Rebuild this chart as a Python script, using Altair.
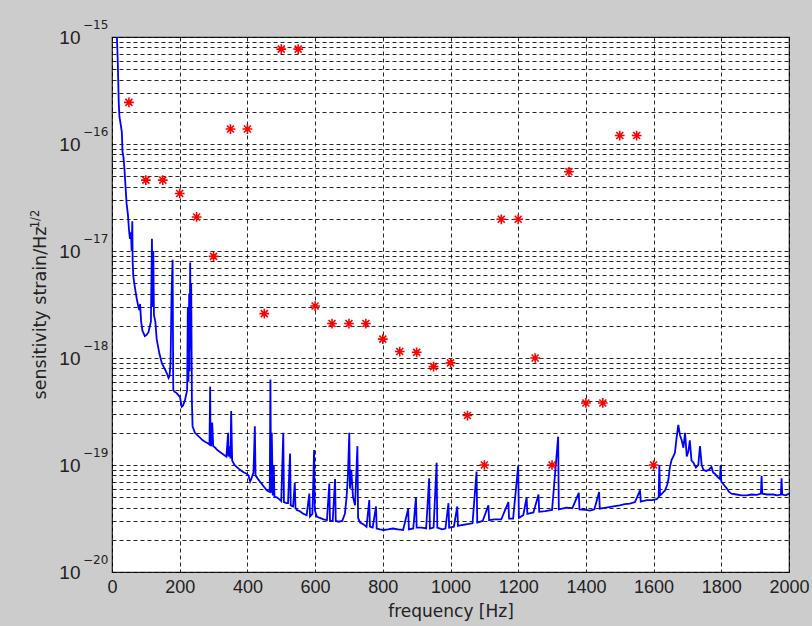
import altair as alt
import pandas as pd

# ---- blue sensitivity curve (frequency in Hz, strain/Hz^1/2) ----
curve_freq = [
    14, 17, 20, 22, 26, 29, 31, 34, 37, 40, 43, 47, 50, 53, 56, 58, 60, 61, 63, 68,
    73, 78, 81, 83, 86, 90, 97, 103, 108, 115, 118, 120, 122, 124, 128, 132, 140, 147, 155, 162,
    167, 170, 173, 176, 179, 181, 186, 191, 196, 201, 206, 210, 216, 222, 224, 226, 228, 229, 231, 232,
    234, 236, 238, 245, 252, 260, 268, 275, 283, 288, 290, 291, 293, 296, 299, 305, 309, 315, 322, 330,
    338, 343, 344, 348, 350, 352, 355, 362, 368, 375, 383, 390, 398, 403, 408, 412, 418, 422, 424, 430,
    440, 450, 457, 466, 468, 470, 472, 475, 478, 480, 486, 494, 500, 506, 508, 515, 520, 526, 528, 535,
    540, 542, 546, 555, 565, 575, 583, 585, 592, 594, 597, 599, 605, 614, 625, 635, 642, 644, 652, 659,
    661, 670, 680, 688, 693, 697, 701, 703, 707, 712, 718, 725, 727, 733, 742, 752, 760, 762, 770, 780,
    782, 792, 802, 815, 830, 845, 860, 875, 877, 890, 898, 900, 915, 928, 937, 939, 950, 959, 961, 975,
    985, 994, 996, 1010, 1020, 1022, 1035, 1050, 1065, 1077, 1079, 1095, 1112, 1114, 1130, 1150, 1171, 1173, 1185, 1200,
    1202, 1215, 1225, 1227, 1245, 1260, 1262, 1280, 1300, 1318, 1320, 1343, 1360, 1379, 1381, 1400, 1412, 1425, 1439, 1441,
    1460, 1481, 1500, 1515, 1530, 1545, 1560, 1562, 1580, 1595, 1609, 1615, 1617, 1619, 1627, 1634, 1640, 1644, 1648, 1653,
    1658, 1663, 1668, 1673, 1678, 1683, 1688, 1693, 1698, 1703, 1707, 1712, 1718, 1725, 1732, 1737, 1742, 1747, 1755, 1763,
    1771, 1776, 1781, 1788, 1796, 1798, 1800, 1808, 1816, 1823, 1830, 1845, 1860, 1875, 1890, 1905, 1917, 1919, 1921, 1935,
    1954, 1965, 1976, 1978, 1980, 1990, 2000,
]
curve_strain = [
    1.1e-15, 6e-16, 2.4e-16, 1.8e-16, 1.5e-16, 1.3e-16, 8.5e-17, 7.5e-17, 5.7e-17, 4.0e-17,
    2.8e-17, 2.2e-17, 1.6e-17, 1.3e-17, 1.5e-17, 1.0e-17, 1.9e-17, 8e-18, 5.8e-18, 4.5e-18,
    3.6e-18, 3.0e-18, 2.8e-18, 3.2e-18, 2.2e-18, 1.8e-18, 1.6e-18, 1.65e-18, 1.75e-18, 2.2e-18,
    1.3e-17, 3e-18, 1.0e-17, 2.5e-18, 2.2e-18, 1.5e-18, 1.1e-18, 9e-19, 8e-19, 7.2e-19,
    6.5e-19, 6.8e-19, 9e-19, 4e-18, 8.3e-18, 5e-19, 4.8e-19, 4.7e-19, 4.5e-19, 4.3e-19,
    3.5e-19, 3.6e-19, 4.1e-19, 5e-19, 3e-18, 6e-19, 4e-18, 7.5e-19, 7.8e-18, 1.2e-18,
    5e-18, 4e-19, 2.3e-19, 2.0e-19, 1.9e-19, 1.8e-19, 1.7e-19, 1.65e-19, 1.6e-19, 1.55e-19,
    5.4e-19, 1.6e-19, 1.5e-19, 2.5e-19, 1.5e-19, 1.45e-19, 1.4e-19, 1.35e-19, 1.3e-19, 1.25e-19,
    1.2e-19, 2.0e-19, 1.2e-19, 1.5e-19, 1.15e-19, 3.2e-19, 1.1e-19, 1.0e-19, 9.6e-20, 9.2e-20,
    8.8e-20, 8.5e-20, 8.3e-20, 8.0e-20, 7.0e-20, 7.5e-20, 8.5e-20, 2.3e-19, 8e-20, 7.5e-20,
    6.8e-20, 6.2e-20, 5.8e-20, 5.6e-20, 6.3e-19, 5.5e-20, 2.0e-19, 5.2e-20, 1.0e-19, 5.0e-20,
    5.0e-20, 4.8e-20, 4.6e-20, 2.0e-19, 4.5e-20, 4.4e-20, 4.4e-20, 1.28e-19, 4.2e-20, 4.1e-20,
    6.8e-20, 4.0e-20, 3.8e-20, 3.7e-20, 3.5e-20, 3.4e-20, 5.4e-20, 3.3e-20, 3.5e-20, 6e-20,
    1.38e-19, 3.8e-20, 3.3e-20, 3.2e-20, 3.1e-20, 3.05e-20, 6.7e-20, 3.0e-20, 3.0e-20, 7.4e-20,
    3.0e-20, 2.95e-20, 3.0e-20, 3.5e-20, 5e-20, 8e-20, 2.0e-19, 6e-20, 9e-20, 5e-20,
    4.2e-20, 1.5e-19, 3.2e-20, 2.9e-20, 2.8e-20, 2.65e-20, 4.7e-20, 2.65e-20, 2.6e-20, 4.1e-20,
    2.55e-20, 2.5e-20, 2.47e-20, 2.5e-20, 2.55e-20, 2.5e-20, 2.47e-20, 3.9e-20, 2.5e-20, 2.55e-20,
    5.0e-20, 2.6e-20, 2.6e-20, 2.55e-20, 7.5e-20, 2.55e-20, 2.6e-20, 1.05e-19, 2.6e-20, 2.5e-20,
    2.55e-20, 4.4e-20, 2.6e-20, 2.65e-20, 4.1e-20, 2.7e-20, 2.75e-20, 2.8e-20, 2.85e-20, 8.7e-20,
    2.9e-20, 3.0e-20, 4.2e-20, 3.05e-20, 3.1e-20, 3.1e-20, 4.5e-20, 3.15e-20, 3.15e-20, 9.9e-20,
    3.2e-20, 3.4e-20, 5.0e-20, 3.5e-20, 3.6e-20, 5.3e-20, 3.65e-20, 3.7e-20, 3.8e-20, 1.84e-19,
    3.85e-20, 4.0e-20, 3.95e-20, 5.5e-20, 3.85e-20, 3.8e-20, 3.75e-20, 3.85e-20, 5.6e-20, 3.9e-20,
    4.0e-20, 4.1e-20, 4.2e-20, 4.3e-20, 4.35e-20, 4.5e-20, 5.8e-20, 4.55e-20, 4.7e-20, 4.7e-20,
    4.8e-20, 5.0e-20, 1.0e-19, 5.2e-20, 5.5e-20, 5.8e-20, 6.5e-20, 7.4e-20, 9.5e-20, 1.11e-19,
    1.2e-19, 1.3e-19, 1.8e-19, 2.37e-19, 1.9e-19, 1.7e-19, 1.45e-19, 2.0e-19, 1.2e-19, 1.35e-19,
    1.7e-19, 1.1e-19, 1.05e-19, 9.5e-20, 1.0e-19, 1.5e-19, 1.0e-19, 9.0e-20, 8.8e-20, 9.0e-20,
    9.6e-20, 8.5e-20, 8.3e-20, 7.8e-20, 7.4e-20, 1.0e-19, 7.0e-20, 6.5e-20, 6.05e-20, 5.6e-20,
    5.4e-20, 5.3e-20, 5.2e-20, 5.2e-20, 5.3e-20, 5.25e-20, 5.4e-20, 7.9e-20, 5.4e-20, 5.3e-20,
    5.3e-20, 5.2e-20, 5.3e-20, 7.5e-20, 5.3e-20, 5.2e-20, 5.4e-20,
]

# ---- red asterisks ----
point_freq = [50, 100, 150, 200, 250, 300, 350, 400, 450, 500, 550, 600, 650, 700, 750, 800,
              850, 900, 950, 1000, 1050, 1100, 1150, 1200, 1250, 1300, 1350, 1400, 1450, 1500, 1550, 1600]
point_strain = [2.45e-16, 4.6e-17, 4.6e-17, 3.45e-17, 2.08e-17, 8.9e-18, 1.38e-16, 1.38e-16,
                2.6e-18, 7.7e-16, 7.7e-16, 3.06e-18, 2.1e-18, 2.1e-18, 2.1e-18, 1.5e-18,
                1.15e-18, 1.13e-18, 8.3e-19, 9.0e-19, 2.9e-19, 1.0e-19, 1.98e-17, 1.98e-17,
                1.0e-18, 1.0e-19, 5.5e-17, 3.8e-19, 3.8e-19, 1.2e-16, 1.2e-16, 1.0e-19]

# ---- axes ----
x_ticks = [0, 200, 400, 600, 800, 1000, 1200, 1400, 1600, 1800, 2000]
decade_exponents = [-20, -19, -18, -17, -16, -15]
minor_multipliers = [1, 2, 3, 4, 5, 6, 7, 8, 9]

y_grid_values = [m * 10.0 ** e for e in decade_exponents[:-1] for m in minor_multipliers] + [1e-15]

FONT = "Liberation Sans"
TFONT = "DejaVu Sans"

curve_df = pd.DataFrame({"freq": curve_freq, "strain": curve_strain})
points_df = pd.DataFrame({"freq": point_freq, "strain": point_strain})
exp_df = pd.DataFrame({
    "strain": [10.0 ** e for e in decade_exponents],
    "label": ["\u2212" + str(abs(e)) for e in decade_exponents],
})

x_scale = alt.Scale(domain=[0, 2000], nice=False, zero=False)
y_scale = alt.Scale(type="log", domain=[1e-20, 1e-15], nice=False)

x_axis = alt.Axis(
    values=x_ticks, format="d", title="frequency [Hz]", grid=True, gridDash=[4, 3],
    gridColor="#000000", gridOpacity=0.85, tickSize=0, domain=False, labelFont=FONT,
    labelFontSize=18, labelColor="#222222", labelPadding=6, titleFont=TFONT, titleFontSize=17,
    titleFontWeight="normal", titleColor="#222222", titlePadding=7, labelFlush=False,
)
y_axis = alt.Axis(
    values=y_grid_values, title=None, grid=True, gridDash=[4, 3], gridColor="#000000",
    gridOpacity=0.85, tickSize=0, domain=False, labelFont=FONT, labelFontSize=19,
    labelColor="#222222", labelPadding=32, labelOverlap=False, labelFlush=False,
    labelExpr="abs(log(datum.value)/LN10 - round(log(datum.value)/LN10)) < 0.001 ? '10' : ''",
)

curve = alt.Chart(curve_df).mark_line(color="#0000ff", strokeWidth=1.8, clip=True).encode(
    x=alt.X("freq:Q", scale=x_scale, axis=x_axis),
    y=alt.Y("strain:Q", scale=y_scale, axis=y_axis),
    order="freq:Q",
)

asterisk = "M-1,0L1,0M0,-1L0,1M-0.72,-0.72L0.72,0.72M-0.72,0.72L0.72,-0.72"
points = alt.Chart(points_df).mark_point(
    shape=asterisk, filled=False, color="#ff0000", strokeWidth=1.6, size=95, opacity=1
).encode(
    x=alt.X("freq:Q", scale=x_scale),
    y=alt.Y("strain:Q", scale=y_scale),
)

exponents = alt.Chart(exp_df).mark_text(
    align="left", baseline="middle", dy=-12, fontSize=12, font=TFONT, color="#222222"
).encode(
    x=alt.value(-29),
    y=alt.Y("strain:Q", scale=y_scale),
    text="label:N",
)

ytitle = alt.Chart(alt.Data(values=[{}])).mark_text(
    angle=270, align="center", baseline="middle", fontSize=17.5, font=TFONT, color="#222222"
).encode(x=alt.value(-71), y=alt.value(276), text=alt.value("sensitivity strain/Hz"))

ytitle_sup = alt.Chart(alt.Data(values=[{}])).mark_text(
    angle=270, align="center", baseline="middle", fontSize=11.5, font=TFONT, color="#222222"
).encode(x=alt.value(-76), y=alt.value(182), text=alt.value("1/2"))

chart = alt.layer(curve, points, exponents, ytitle, ytitle_sup).properties(
    width=677,
    height=535,
    background="#cccccc",
    autosize=alt.AutoSizeParams(type="none"),
    padding={"left": 112, "top": 37, "right": 23, "bottom": 54},
).configure_view(stroke="#222222", strokeWidth=1.2, fill="#ffffff")

chart.save("out.html", embed_options={"renderer": "svg", "actions": False})
